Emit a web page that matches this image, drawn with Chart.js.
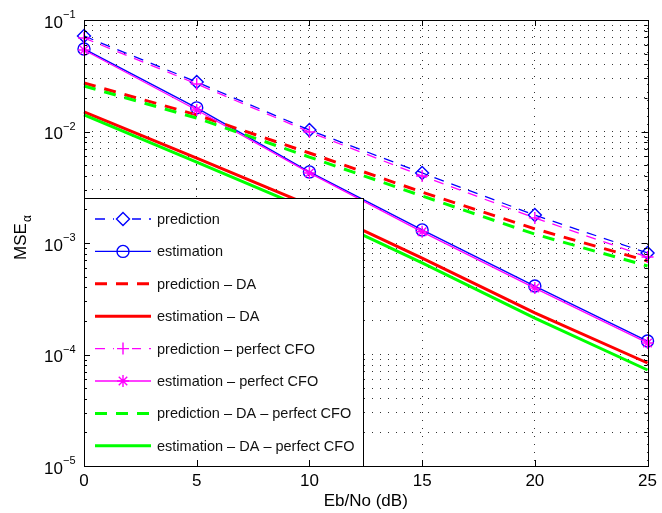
<!DOCTYPE html>
<html>
<head>
<meta charset="utf-8">
<script src="https://cdn.jsdelivr.net/npm/chart.js@4.4.1/dist/chart.umd.min.js"></script>
<style>
  html, body { margin: 0; padding: 0; background: #fff; }
</style>
</head>
<body>
<canvas id="mse-chart" width="662" height="513"></canvas>
<script>
// Eb/No points (dB)
const ebNo = [0, 5, 10, 15, 20, 25];

// MSE values
const prediction        = [0.0719, 0.0278, 0.0103, 0.00425, 0.00178, 0.000813];
const estimation        = [0.0550, 0.0163, 0.00434, 0.00131, 0.000411, 0.000132];
const predictionDA      = [0.0272, 0.0141, 0.00641, 0.00286, 0.00134, 0.00069];
const estimationDA      = [0.0150, 0.00578, 0.00219, 0.000733, 0.000236, 0.0000839];
const predictionCFO     = [0.0690, 0.0267, 0.0099, 0.00399, 0.00168, 0.000748];
const estimationCFO     = [0.0538, 0.0156, 0.00425, 0.00126, 0.000394, 0.000127];
const predictionDACFO   = [0.0256, 0.0132, 0.0059, 0.00264, 0.0012, 0.000622];
const estimationDACFO   = [0.0141, 0.00532, 0.00198, 0.000662, 0.000212, 0.0000726];

const seriesLabels = [
  'prediction',
  'estimation',
  'prediction \u2013 DA',
  'estimation \u2013 DA',
  'prediction \u2013 perfect CFO',
  'estimation \u2013 perfect CFO',
  'prediction \u2013 DA \u2013 perfect CFO',
  'estimation \u2013 DA \u2013 perfect CFO'
];

const yMajorTicks = [1e-5, 1e-4, 1e-3, 1e-2, 1e-1];
const yMajorExp = ['\u22125', '\u22124', '\u22123', '\u22122', '\u22121'];
const xTicks = [0, 5, 10, 15, 20, 25];

const FONT = '"Liberation Sans", Arial, Helvetica, sans-serif';

function toPoints(vals) {
  return ebNo.map((x, i) => ({ x: x, y: vals[i] }));
}

function makeSet(i, vals, color, width, dash, marker, radius) {
  return {
    label: seriesLabels[i],
    data: toPoints(vals),
    borderColor: color,
    backgroundColor: color,
    borderWidth: width,
    borderDash: dash,
    pointStyle: marker || 'circle',
    pointRadius: marker ? radius : 0,
    pointHoverRadius: marker ? radius : 0,
    pointBorderColor: color,
    pointBackgroundColor: 'rgba(0,0,0,0)',
    pointBorderWidth: 1.4,
    tension: 0,
    fill: false,
    clip: false,
    order: 7 - i
  };
}

const datasets = [
  makeSet(0, prediction, '#0000ff', 1.3, [10, 8], 'rectRot', 6.5),
  makeSet(1, estimation, '#0000ff', 1.3, [], 'circle', 6),
  makeSet(2, predictionDA, '#ff0000', 3, [12, 9], null, 0),
  makeSet(3, estimationDA, '#ff0000', 3, [], null, 0),
  makeSet(4, predictionCFO, '#ff00ff', 1.3, [10, 8], 'cross', 6),
  makeSet(5, estimationCFO, '#ff00ff', 1.3, [], 'star', 6),
  makeSet(6, predictionDACFO, '#00ff00', 3, [12, 9], null, 0),
  makeSet(7, estimationDACFO, '#00ff00', 3, [], null, 0)
];

// grid positions for the log axis: 1..9 in every decade
function logGridTicks() {
  const out = [];
  for (let d = 0; d < yMajorTicks.length; d++) {
    const base = yMajorTicks[d];
    if (d === yMajorTicks.length - 1) { out.push({ value: base, major: true }); break; }
    for (let m = 1; m <= 9; m++) out.push({ value: base * m, major: m === 1 });
  }
  return out;
}

function drawMarker(ctx, style, x, y, r) {
  ctx.beginPath();
  if (style === 'rectRot') {
    ctx.moveTo(x, y - r); ctx.lineTo(x + r, y); ctx.lineTo(x, y + r); ctx.lineTo(x - r, y); ctx.closePath();
  } else if (style === 'circle') {
    ctx.arc(x, y, r, 0, Math.PI * 2);
  } else if (style === 'cross') {
    ctx.moveTo(x - r, y); ctx.lineTo(x + r, y); ctx.moveTo(x, y - r); ctx.lineTo(x, y + r);
  } else if (style === 'star') {
    ctx.moveTo(x - r, y); ctx.lineTo(x + r, y); ctx.moveTo(x, y - r); ctx.lineTo(x, y + r);
    const k = r * Math.SQRT1_2;
    ctx.moveTo(x - k, y - k); ctx.lineTo(x + k, y + k); ctx.moveTo(x - k, y + k); ctx.lineTo(x + k, y - k);
  }
  ctx.stroke();
}

const matlabDecor = {
  id: 'matlabDecor',
  afterDatasetsDraw(chart) {
    const ctx = chart.ctx;
    const a = chart.chartArea;
    const ys = chart.scales.y;
    const xs = chart.scales.x;

    // legend box
    const lw = 279, lh = 268;
    const lx = a.left, ly = a.bottom - lh;
    ctx.save();
    ctx.fillStyle = '#fff';
    ctx.fillRect(lx, ly, lw, lh);
    ctx.strokeStyle = '#000';
    ctx.lineWidth = 1;
    ctx.strokeRect(lx + 0.5, ly + 0.5, lw, lh);
    chart.data.datasets.forEach((ds, i) => {
      const yy = ly + 21 + i * 32.4;
      ctx.strokeStyle = ds.borderColor;
      ctx.lineWidth = ds.borderWidth;
      ctx.setLineDash(ds.borderDash.length ? ds.borderDash : []);
      ctx.beginPath();
      ctx.moveTo(lx + 11, yy);
      ctx.lineTo(lx + 67, yy);
      ctx.stroke();
      ctx.setLineDash([]);
      if (ds.pointRadius > 0) {
        if (ds.borderDash.length) {
          ctx.fillStyle = '#fff';
          ctx.fillRect(lx + 39 - 9, yy - 8, 18, 16);
        }
        ctx.lineWidth = 1.4;
        drawMarker(ctx, ds.pointStyle, lx + 39, yy, ds.pointRadius);
      }
      ctx.fillStyle = '#111';
      ctx.font = '14.5px ' + FONT;
      ctx.textAlign = 'left';
      ctx.textBaseline = 'middle';
      ctx.fillText(ds.label, lx + 73, yy + 1);
    });
    ctx.restore();

    // axes box and inward ticks
    ctx.save();
    ctx.strokeStyle = '#000';
    ctx.lineWidth = 1;
    ctx.strokeRect(Math.round(a.left) + 0.5, Math.round(a.top) + 0.5,
                   Math.round(a.right - a.left), Math.round(a.bottom - a.top));
    ctx.beginPath();
    ys.ticks.forEach(t => {
      const py = Math.round(ys.getPixelForValue(t.value)) + 0.5;
      const len = t.major ? 6 : 3;
      ctx.moveTo(a.left, py); ctx.lineTo(a.left + len, py);
      ctx.moveTo(a.right, py); ctx.lineTo(a.right - len, py);
    });
    xTicks.forEach(v => {
      const px = Math.round(xs.getPixelForValue(v)) + 0.5;
      ctx.moveTo(px, a.bottom); ctx.lineTo(px, a.bottom - 6);
      ctx.moveTo(px, a.top); ctx.lineTo(px, a.top + 6);
    });
    ctx.stroke();
    ctx.restore();
  },
  afterDraw(chart) {
    const ctx = chart.ctx;
    const a = chart.chartArea;
    const ys = chart.scales.y;
    ctx.save();
    ctx.fillStyle = '#000';
    // y tick labels 10^n
    yMajorTicks.forEach((v, i) => {
      const py = ys.getPixelForValue(v);
      ctx.font = '17px ' + FONT;
      ctx.textAlign = 'right';
      ctx.textBaseline = 'alphabetic';
      ctx.fillText('10', a.left - 21, py + 7.5);
      ctx.font = '11px ' + FONT;
      ctx.textAlign = 'left';
      ctx.fillText(yMajorExp[i], a.left - 21, py - 2);
    });
    // y title MSE_alpha
    ctx.translate(26, 238);
    ctx.rotate(-Math.PI / 2);
    ctx.font = '17px ' + FONT;
    const w1 = ctx.measureText('MSE').width;
    ctx.font = '12px ' + FONT;
    const w2 = ctx.measureText('\u03b1').width;
    const x0 = -(w1 + w2) / 2;
    ctx.font = '17px ' + FONT;
    ctx.textAlign = 'left';
    ctx.textBaseline = 'alphabetic';
    ctx.fillText('MSE', x0, 0);
    ctx.font = '12px ' + FONT;
    ctx.fillText('\u03b1', x0 + w1 + 1, 5);
    ctx.restore();
  }
};

const chartCanvas = document.getElementById('mse-chart').getContext('2d');

const mseChart = new Chart(chartCanvas, {
  type: 'line',
  data: { datasets: datasets },
  plugins: [matlabDecor],
  options: {
    responsive: false,
    animation: false,
    devicePixelRatio: 1,
    layout: { padding: { top: 20, right: 11, left: 0, bottom: 0 } },
    plugins: {
      legend: { display: false },
      tooltip: { enabled: false }
    },
    scales: {
      x: {
        type: 'linear',
        min: 0,
        max: 25,
        afterBuildTicks: (scale) => { scale.ticks = xTicks.map(v => ({ value: v })); },
        afterFit: (scale) => { scale.height = 47; },
        ticks: {
          color: '#000',
          font: { family: FONT, size: 17 },
          padding: 5,
          maxRotation: 0,
          autoSkip: false
        },
        grid: {
          color: 'rgba(0,0,0,0.8)',
          lineWidth: 1,
          drawTicks: false
        },
        border: { display: false, dash: [1, 7] },
        title: {
          display: true,
          text: 'Eb/No (dB)',
          color: '#000',
          font: { family: FONT, size: 17 },
          padding: { top: 0, bottom: 1 }
        }
      },
      y: {
        type: 'logarithmic',
        min: 1e-5,
        max: 1e-1,
        afterBuildTicks: (scale) => { scale.ticks = logGridTicks(); },
        afterFit: (scale) => { scale.width = 84; },
        ticks: {
          display: true,
          autoSkip: false,
          callback: () => ''
        },
        grid: {
          color: 'rgba(0,0,0,0.8)',
          lineWidth: 1,
          drawTicks: false
        },
        border: { display: false, dash: [1, 7] }
      }
    }
  }
});
</script>
</body>
</html>
